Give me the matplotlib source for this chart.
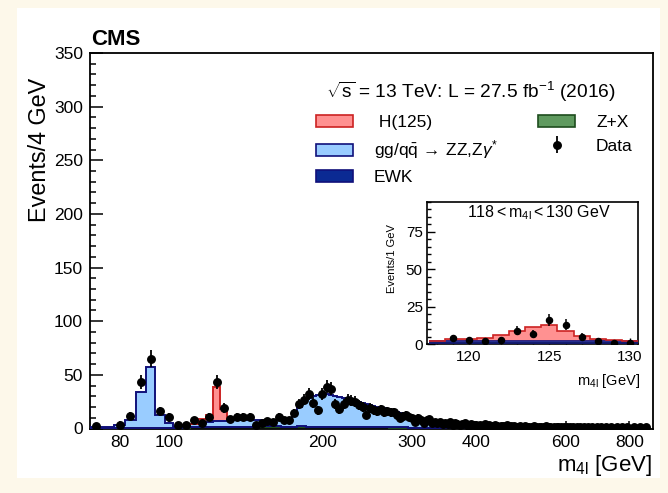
import numpy as np
import matplotlib
matplotlib.use("Agg")
import matplotlib.pyplot as plt
from matplotlib.patches import Rectangle, Patch
from matplotlib.ticker import FixedLocator, FixedFormatter, MultipleLocator, NullFormatter

plt.rcParams["font.family"] = ["Liberation Sans", "DejaVu Sans"]
plt.rcParams["mathtext.fontset"] = "custom"
plt.rcParams["mathtext.rm"] = "Liberation Sans"
plt.rcParams["mathtext.it"] = "Liberation Sans:italic"
plt.rcParams["mathtext.bf"] = "Liberation Sans:bold"

# ---------------- main distribution: 4 GeV bins from 70 to 890 GeV ----------------
bin_width = 4.0
mass_min, mass_max = 70.0, 890.0

data_counts = [
    2, 0, 3, 12, 43, 65, 16, 11, 3, 3,
    8, 5, 11, 43, 19, 9, 11, 11, 11, 3,
    5, 7, 6, 11, 8, 8, 14, 23, 27, 32,
    24, 17, 32, 39, 37, 23, 18, 23, 27, 26,
    25, 22, 20, 13, 19, 17, 16, 18, 15, 16,
    15, 15, 13, 10, 12, 13, 11, 10, 6, 10,
    8, 5, 8, 9, 5, 6, 5, 6, 4, 5,
    4, 6, 3, 5, 4, 3, 4, 5, 3, 2,
    4, 3, 3, 2, 3, 2, 4, 2, 3, 1,
    2, 3, 2, 1, 2, 2, 1, 3, 1, 2,
    1, 2, 1, 1, 2, 1, 0, 2, 1, 1,
    0, 1, 2, 1, 0, 1, 1, 0, 1, 2,
    0, 1, 1, 0, 1, 0, 1, 1, 0, 1,
    0, 1, 0, 1, 0, 1, 0, 1, 0, 0,
    1, 0, 1, 0, 0, 1, 0, 0, 1, 0,
    0, 1, 0, 0, 0, 1, 0, 0, 1, 0,
    0, 0, 1, 0, 0, 0, 1, 0, 0, 0,
    0, 1, 0, 0, 0, 1, 0, 0, 0, 0,
    1, 0, 0, 0, 0, 0, 1, 0, 0, 0,
    0, 0, 1, 0, 0, 0, 0, 0, 1, 0,
    0, 0, 0, 0, 0,
]

# expected backgrounds (70-502 GeV)
zx_bkg = [
    0.30, 0.30, 0.40, 0.40, 0.50, 0.50, 0.50, 0.60, 0.70, 0.90,
    1.10, 1.30, 1.50, 1.60, 1.70, 1.80, 1.80, 1.80, 1.80, 1.80,
    1.80, 1.80, 1.80, 1.80, 1.70, 1.70, 1.70, 1.70, 1.70, 1.60,
    1.60, 1.60, 1.50, 1.50, 1.50, 1.40, 1.40, 1.40, 1.30, 1.30,
    1.30, 1.20, 1.20, 1.20, 1.10, 1.10, 1.10, 1.00, 1.00, 1.00,
    0.90, 0.90, 0.90, 0.80, 0.80, 0.80, 0.70, 0.70, 0.70, 0.60,
    0.60, 0.60, 0.50, 0.50, 0.50, 0.50, 0.40, 0.40, 0.40, 0.40,
    0.35, 0.35, 0.35, 0.30, 0.30, 0.30, 0.30, 0.25, 0.25, 0.25,
    0.25, 0.20, 0.20, 0.20, 0.20, 0.20, 0.18, 0.18, 0.18, 0.15,
    0.15, 0.15, 0.15, 0.12, 0.12, 0.12, 0.12, 0.10, 0.10, 0.10,
    0.10, 0.10, 0.08, 0.08, 0.08, 0.08, 0.08, 0.08,
]
ewk_bkg = [
    0.05, 0.05, 0.05, 0.10, 0.20, 0.30, 0.10, 0.05, 0.05, 0.05,
    0.05, 0.05, 0.05, 0.05, 0.05, 0.05, 0.05, 0.05, 0.05, 0.10,
    0.10, 0.10, 0.10, 0.10, 0.10, 0.10, 0.15, 0.20, 0.20, 0.20,
    0.20, 0.20, 0.20, 0.20, 0.20, 0.20, 0.20, 0.20, 0.20, 0.20,
    0.20, 0.20, 0.20, 0.20, 0.20, 0.20, 0.20, 0.20, 0.20, 0.20,
    0.20, 0.20, 0.20, 0.20, 0.20, 0.20, 0.20, 0.20, 0.15, 0.15,
    0.15, 0.15, 0.15, 0.15, 0.15, 0.15, 0.15, 0.15, 0.12, 0.12,
    0.12, 0.12, 0.12, 0.12, 0.10, 0.10, 0.10, 0.10, 0.10, 0.10,
    0.10, 0.10, 0.10, 0.10, 0.10, 0.08, 0.08, 0.08, 0.08, 0.08,
    0.08, 0.08, 0.07, 0.07, 0.07, 0.07, 0.07, 0.07, 0.07, 0.06,
    0.06, 0.06, 0.06, 0.06, 0.06, 0.06, 0.05, 0.05,
]
zz_bkg = [
    0.65, 1.15, 3.05, 7.50, 33.30, 56.70, 11.90, 4.15, 1.05, 1.85,
    2.65, 3.65, 4.75, 5.35, 5.65, 5.95, 6.15, 6.15, 6.15, 6.10,
    6.10, 6.10, 6.10, 6.30, 6.70, 7.20, 12.15, 18.10, 22.10, 26.20,
    28.70, 29.70, 30.30, 30.10, 29.30, 28.70, 27.90, 27.10, 26.30, 25.30,
    24.30, 23.60, 22.60, 21.60, 20.70, 19.90, 19.00, 18.30, 17.60, 16.80,
    16.10, 15.30, 14.50, 13.80, 13.00, 12.20, 11.60, 10.90, 10.25, 9.65,
    9.05, 8.45, 7.95, 7.35, 6.85, 6.35, 6.05, 5.65, 5.28, 4.98,
    4.73, 4.43, 4.23, 3.98, 3.80, 3.60, 3.40, 3.25, 3.15, 2.95,
    2.85, 2.70, 2.60, 2.50, 2.40, 2.32, 2.24, 2.14, 2.04, 1.97,
    1.87, 1.77, 1.73, 1.71, 1.61, 1.56, 1.51, 1.43, 1.38, 1.34,
    1.29, 1.24, 1.21, 1.16, 1.11, 1.06, 1.02, 0.97,
]

# H(125) signal, 106-138 GeV
h_edges_lo = 106.0
h125 = [0.1, 0.4, 4.0, 6.0, 32.0, 10.5, 1.5, 0.4]

# ---------------- inset: 1 GeV bins around 125 GeV ----------------
fine_centers = [118, 119, 120, 121, 122, 123, 124, 125, 126, 127, 128, 129, 130]
fine_h125 = [0.1, 1.2, 1.4, 2.4, 4.2, 6.5, 9.4, 10.5, 6.9, 3.1, 1.5, 0.4, 0.0]
fine_zz = [1.45, 1.46, 1.47, 1.48, 1.49, 1.50, 1.51, 1.52, 1.53, 1.54, 1.55, 1.56, 1.57]
fine_zx = [0.40, 0.40, 0.40, 0.40, 0.40, 0.40, 0.40, 0.40, 0.40, 0.40, 0.40, 0.40, 0.40]
fine_ewk = [0.05, 0.05, 0.05, 0.05, 0.05, 0.05, 0.05, 0.05, 0.05, 0.05, 0.05, 0.05, 0.05]
fine_data = [0, 4, 3, 2, 3, 9, 7, 16, 13, 5, 2, 1, 1]

x_major = [80, 100, 200, 300, 400, 600, 800]
x_minor = [90, 500, 700]

# colours
cream = "#fdf8ea"
h_fill, h_edge = "#ff9191", "#cc2222"
zz_fill, zz_edge = "#99ccff", "#10107a"
ewk_fill = "#0b2a93"
zx_fill, zx_edge = "#5f9a5f", "#1e4d1e"


def stack_layers(edges, comps, ax, lw):
    """Draw stacked, filled step histograms; returns the cumulative top."""
    bottom = np.zeros(len(edges) - 1)
    for vals, fc, ec in comps:
        top = bottom + np.asarray(vals, float)
        ax.stairs(top, edges, baseline=bottom, fill=True, color=fc, lw=0, zorder=2)
        ax.stairs(top, edges, baseline=None, color=ec, lw=lw, zorder=3)
        bottom = top
    return bottom


fig = plt.figure(figsize=(6.68, 4.93), dpi=100)
fig.patch.set_facecolor(cream)
panel = Rectangle((17 / 668, 15 / 493), 643 / 668, 470 / 493,
                  transform=fig.transFigure, facecolor="white",
                  edgecolor="none", zorder=-10)
fig.add_artist(panel)

ax = fig.add_axes([90 / 668, 64.5 / 493, 563 / 668, 375.5 / 493])
ax.set_facecolor("white")
ax.set_zorder(1)

n_bins = int(round((mass_max - mass_min) / bin_width))
edges = mass_min + bin_width * np.arange(n_bins + 1)
centers = 0.5 * (edges[:-1] + edges[1:])
n_model = len(zz_bkg)
m_edges = edges[: n_model + 1]

bkg_top = stack_layers(m_edges, [(zx_bkg, zx_fill, zx_edge),
                                 (ewk_bkg, ewk_fill, zz_edge),
                                 (zz_bkg, zz_fill, zz_edge)], ax, 1.4)

# signal stacked on top of the background
i0 = int(round((h_edges_lo - mass_min) / bin_width))
h_e = m_edges[i0: i0 + len(h125) + 1]
h_base = bkg_top[i0: i0 + len(h125)]
h_top = h_base + np.asarray(h125)
ax.stairs(h_top, h_e, baseline=h_base, fill=True, color=h_fill, lw=0, zorder=2)
ax.stairs(h_top, h_e, baseline=None, color=h_edge, lw=1.4, zorder=3)

counts = np.asarray(data_counts, float)
nz = counts > 0
data_eb = ax.errorbar(centers[nz], counts[nz], yerr=np.sqrt(counts[nz]), fmt="o",
                      color="black", ms=5.4, elinewidth=1.3, capsize=0, zorder=5)

ax.set_xscale("log")
ax.set_xlim(mass_min, mass_max)
ax.set_ylim(0, 350)
ax.xaxis.set_major_locator(FixedLocator(x_major))
ax.xaxis.set_major_formatter(FixedFormatter([str(v) for v in x_major]))
ax.xaxis.set_minor_locator(FixedLocator(x_minor))
ax.xaxis.set_minor_formatter(NullFormatter())
ax.yaxis.set_major_locator(MultipleLocator(50))
ax.yaxis.set_minor_locator(MultipleLocator(10))
ax.tick_params(axis="both", which="both", direction="in", labelsize=12.5, width=1.1)
ax.tick_params(axis="y", which="major", length=9, pad=5)
ax.tick_params(axis="y", which="minor", length=4.5)
ax.tick_params(axis="x", which="major", length=6, pad=5)
ax.tick_params(axis="x", which="minor", length=3)
for sp in ax.spines.values():
    sp.set_linewidth(1.3)

legend_handles = [
    Patch(facecolor=h_fill, edgecolor=h_edge, lw=1.2),
    Patch(facecolor=zz_fill, edgecolor=zz_edge, lw=1.2),
    Patch(facecolor=ewk_fill, edgecolor=zz_edge, lw=1.2),
    Patch(facecolor=zx_fill, edgecolor=zx_edge, lw=1.2),
    data_eb,
]
legend_labels = [" H(125)", r"gg/q$\bar{\mathrm{q}}\,\rightarrow\,$ZZ,Z$\gamma^{*}$",
                 "EWK", "Z+X", "Data"]
ax.legend(legend_handles, legend_labels, ncol=2, loc="upper left",
          bbox_to_anchor=(0.401, 0.836), frameon=False, fontsize=12.5,
          handlelength=2.15, handleheight=0.72, handletextpad=1.2,
          columnspacing=2.3, labelspacing=0.5, borderpad=0, borderaxespad=0)

ax.text(0.933, 0.897, r"$\sqrt{\mathrm{s}}$ = 13 TeV: L = 27.5 fb$^{-1}$ (2016)",
        transform=ax.transAxes, ha="right", va="center", fontsize=13.8)

fig.text(91 / 668, 1 - 45 / 493, "CMS", fontsize=16, fontweight="bold",
         ha="left", va="baseline")
fig.text(40 / 668, 1 - 78 / 493, "Events/4 GeV", rotation=90, fontsize=16.8,
         ha="center", va="top")
fig.text(652 / 668, 1 - 465 / 493, r"m$_{\mathrm{4l}}$ [GeV]", fontsize=16,
         ha="right", va="center")

# ---------------- inset ----------------
ax2 = fig.add_axes([427 / 668, 149 / 493, 211 / 668, 142 / 493])
ax2.set_facecolor("white")
ax2.set_zorder(2)
fc = np.asarray(fine_centers, float)
f_edges = np.append(fc - 0.5, fc[-1] + 0.5)
f_bkg = stack_layers(f_edges, [(fine_zx, zx_fill, zx_edge),
                               (fine_ewk, ewk_fill, zz_edge),
                               (fine_zz, zz_fill, zz_edge)], ax2, 1.2)
f_top = f_bkg + np.asarray(fine_h125)
ax2.stairs(f_top, f_edges, baseline=f_bkg, fill=True, color=h_fill, lw=0, zorder=2)
ax2.stairs(f_top, f_edges, baseline=None, color=h_edge, lw=1.2, zorder=3)
fd = np.asarray(fine_data, float)
fnz = fd > 0
ax2.errorbar(fc[fnz], fd[fnz], yerr=np.sqrt(fd[fnz]), fmt="o", color="black",
             ms=4.4, elinewidth=1.1, capsize=0, zorder=5)
ax2.set_xlim(117.4, 130.5)
ax2.set_ylim(0, 95)
ax2.xaxis.set_major_locator(FixedLocator([120, 125, 130]))
ax2.xaxis.set_minor_locator(MultipleLocator(1))
ax2.yaxis.set_major_locator(MultipleLocator(25))
ax2.yaxis.set_minor_locator(MultipleLocator(5))
ax2.tick_params(axis="both", which="both", direction="in", labelsize=11, width=1.0)
ax2.tick_params(axis="y", which="major", length=6, pad=3)
ax2.tick_params(axis="y", which="minor", length=3)
ax2.tick_params(axis="x", which="major", length=4, pad=4)
ax2.tick_params(axis="x", which="minor", length=2)
for sp in ax2.spines.values():
    sp.set_linewidth(1.2)
ax2.text(0.53, 0.925, r"118$<$m$_{\mathrm{4l}}$$<$130 GeV", transform=ax2.transAxes,
         ha="center", va="center", fontsize=11.5)
fig.text(392 / 668, 1 - 224 / 493, "Events/1 GeV", rotation=90, fontsize=8,
         ha="center", va="top", zorder=3)
fig.text(640 / 668, 1 - 381 / 493, r"m$_{\mathrm{4l}}$ [GeV]", fontsize=10.5,
         ha="right", va="center", zorder=3)

fig.savefig("out.png", dpi=100, facecolor=cream)
